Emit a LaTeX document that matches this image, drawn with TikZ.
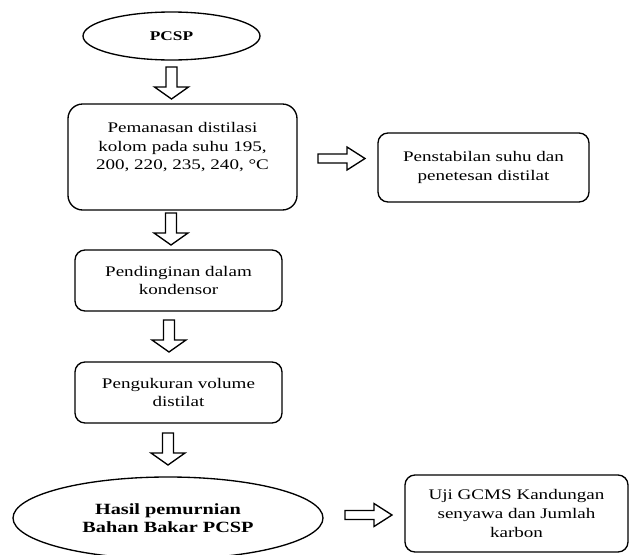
\documentclass[tikz,border=0pt]{standalone}
\usepackage{fontspec}
\setmainfont{Liberation Serif}[FakeStretch=1.3]
\usetikzlibrary{shapes.geometric,calc}

\tikzset{
  stepbox/.style={draw, line width=1pt, rounded corners=7.5pt, inner sep=0pt, outer sep=0pt, align=center},
  oval/.style={draw, ellipse, line width=1pt, inner sep=0pt, outer sep=0pt, align=center, font=\bfseries},
  hollow/.style={draw, line width=1pt, fill=white, line join=miter},
  arrdown/.pic={\draw[hollow] (-5.5,0) -- (-5.5,20) -- (-17,20) -- (0,32) -- (17,20) -- (5.5,20) -- (5.5,0) -- cycle;},
  arrright/.pic={\draw[hollow] (0,-4.5) -- (29,-4.5) -- (29,-11.5) -- (47,0) -- (29,11.5) -- (29,4.5) -- (0,4.5) -- cycle;}
}

\begin{document}
\begin{tikzpicture}[x=0.75pt, y=-0.75pt, font=\fontsize{11pt}{13.9pt}\selectfont]
        \useasboundingbox (0,0) rectangle (629,554);

        % main column
        \node[oval, minimum width=132.75pt, minimum height=36pt] (pcsp) at (171.5,36) {PCSP};
        \node[stepbox, rounded corners=11pt, minimum width=171.75pt, minimum height=79.5pt] (heat) at (182.5,157) {};
        \node[align=center, inner sep=0pt] (heattxt) at ($(heat.center)+(0,-9.5)$)
          {Pemanasan distilasi\\kolom pada suhu 195,\\200, 220, 235, 240, °C};
        \node[stepbox, minimum width=155.25pt, minimum height=45.75pt] (cool) at (178.5,280.5)
          {Pendinginan dalam\\kondensor};
        \node[stepbox, minimum width=155.25pt, minimum height=45.75pt] (meas) at (178.5,392.5)
          {Pengukuran volume\\distilat};
        \node[oval, minimum width=232.5pt, minimum height=61.5pt,
          font=\fontsize{11.7pt}{13.6pt}\selectfont\bfseries] (hasil) at (168,518)
          {Hasil pemurnian\\Bahan Bakar PCSP};

        % side boxes
        \node[stepbox, minimum width=158.25pt, minimum height=51.75pt] (stab) at (483.5,167.5)
          {Penstabilan suhu dan\\penetesan distilat};
        \node[stepbox, minimum width=167.25pt, minimum height=57.75pt] (uji) at (516.5,513.5)
          {Uji GCMS Kandungan\\senyawa dan Jumlah\\karbon};

        % block arrows
        \pic (a1) at ($(pcsp.south)+(0,7)$) {arrdown};
        \pic (a2) at ($(heat.south)+(-11.5,3)$) {arrdown};
        \pic (a3) at ($(cool.south)+(-9.5,9)$) {arrdown};
        \pic (a4) at ($(meas.south)+(-10.5,10)$) {arrdown};
        \pic (r1) at ($(heat.east)+(21,1.5)$) {arrright};
        \pic (r2) at ($(hasil.east)+(22,-3)$) {arrright};
      \end{tikzpicture}
\end{document}
